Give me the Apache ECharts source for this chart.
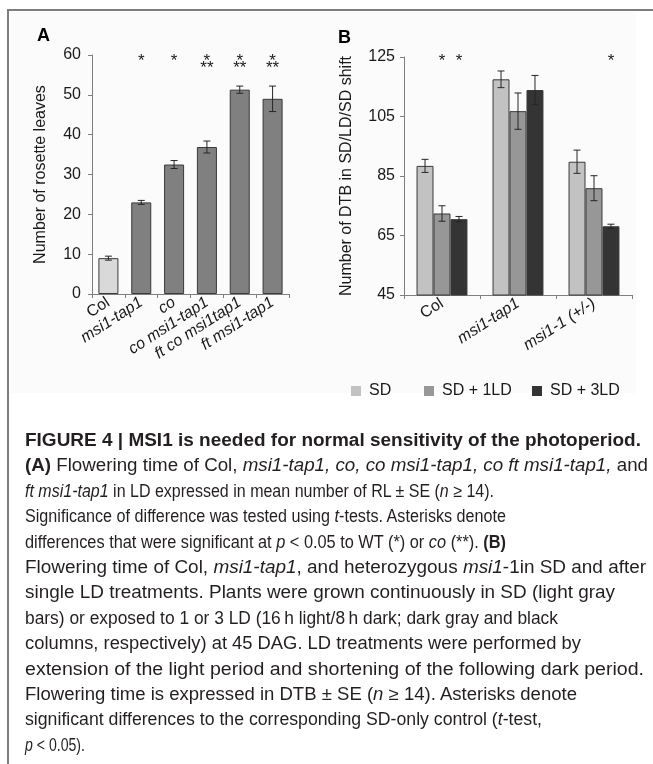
<!DOCTYPE html>
<html><head><meta charset="utf-8">
<script src="https://cdn.jsdelivr.net/npm/echarts@6/dist/echarts.min.js"></script>
<style>
html,body{margin:0;padding:0;background:#fff;}
#chart{position:absolute;left:0;top:0;width:653px;height:764px;}
#caption{position:absolute;left:25px;top:428px;font-family:"Liberation Sans",Arial,sans-serif;font-size:17.5px;line-height:25.4px;color:#231f20;white-space:nowrap;}
#caption div{height:25.4px;}
#caption div span{display:inline-block;transform-origin:0 50%;}
</style></head><body>
<div id="chart"></div>
<div id="caption">
<div><span><b>FIGURE 4 | MSI1 is needed for normal sensitivity of the photoperiod.</b></span></div>
<div><span><b>(A)</b> Flowering time of Col, <i>msi1-tap1, co, co msi1-tap1, co ft msi1-tap1,</i> and</span></div>
<div><span><i>ft msi1-tap1</i> in LD expressed in mean number of RL ± SE (<i>n</i> ≥ 14).</span></div>
<div><span>Significance of difference was tested using <i>t</i>-tests. Asterisks denote</span></div>
<div><span>differences that were significant at <i>p</i> &lt; 0.05 to WT (*) or <i>co</i> (**). <b>(B)</b></span></div>
<div><span>Flowering time of Col, <i>msi1-tap1</i>, and heterozygous <i>msi1</i>-1in SD and after</span></div>
<div><span>single LD treatments. Plants were grown continuously in SD (light gray</span></div>
<div><span>bars) or exposed to 1 or 3 LD (16&#8201;h light/8&#8201;h dark; dark gray and black</span></div>
<div><span>columns, respectively) at 45 DAG. LD treatments were performed by</span></div>
<div><span>extension of the light period and shortening of the following dark period.</span></div>
<div><span>Flowering time is expressed in DTB ± SE (<i>n</i> ≥ 14). Asterisks denote</span></div>
<div><span>significant differences to the corresponding SD-only control (<i>t</i>-test,</span></div>
<div><span><i>p</i> &lt; 0.05).</span></div>
</div>
<script>
// ---------- data (panel A) ----------
const catsA = ['Col', 'msi1-tap1', 'co', 'co msi1-tap1', 'ft co msi1tap1', 'ft msi1-tap1'];
const rosetteMean = [9.0, 23.0, 32.5, 36.9, 51.3, 49.0];
const rosetteSE = [0.5, 0.5, 1.0, 1.5, 0.9, 3.2];
const starsWT = ['', '*', '*', '*', '*', '*'];
const starsCo = ['', '', '', '**', '**', '**'];
const yTicksA = [0, 10, 20, 30, 40, 50, 60];

// ---------- data (panel B) ----------
const catsB = ['Col', 'msi1-tap1', 'msi1-1 (+/-)'];
const seriesNamesB = ['SD', 'SD + 1LD', 'SD + 3LD'];
const sdMean = [88.4, 117.5, 89.8];
const sdSE = [2.2, 2.8, 3.9];
const ld1Mean = [72.4, 106.8, 80.9];
const ld1SE = [2.6, 6.1, 4.2];
const ld3Mean = [70.5, 113.9, 68.1];
const ld3SE = [0.9, 4.9, 0.7];
const sdStars = ['', '', ''];
const ld1Stars = ['*', '', ''];
const ld3Stars = ['*', '', '*'];
const yTicksB = [45, 65, 85, 105, 125];

// ---------- caption: condensed look, each line fitted to the reference line length ----------
(function(){
  const lineWidths = [616, 623, 469, 481, 481, 621, 590, 533, 556, 619, 552, 517, 60];
  const spans = document.querySelectorAll('#caption div span');
  spans.forEach(function (sp, k) {
    const w = sp.getBoundingClientRect().width;
    if (w > 0 && lineWidths[k]) sp.style.transform = 'scaleX(' + (lineWidths[k] / w).toFixed(4) + ')';
  });
})();

const FONT = '"Liberation Sans", Arial, Helvetica, sans-serif';
const TXT = '#1a1a1a';
const AXIS = '#7f7f7f';
const EDGE = '#3a3a3a';

const colorsA = ['#d9d9d9', '#808080', '#808080', '#808080', '#808080', '#808080'];
const colorsB = ['#c2c2c2', '#979797', '#343434'];
const gapA = 0.39, gapB = 0.33;

function italicFmt(v) { return v === 'Col' ? v : '{i|' + v + '}'; }

function errRender(means, ses, starRows, slot, count, gap, starOffsets) {
  return function (params, api) {
    const i = params.dataIndex;
    const band = api.size([1, 0])[0];
    const bw = band * (1 - gap) / count;
    const dx = (slot - (count - 1) / 2) * bw;
    const top = api.coord([i, means[i] + ses[i]]);
    const bot = api.coord([i, means[i] - ses[i]]);
    const x = top[0] + dx;
    const cap = 3.5;
    const st = { stroke: '#262626', lineWidth: 1 };
    const children = [
      { type: 'line', shape: { x1: x, y1: top[1], x2: x, y2: bot[1] }, style: st },
      { type: 'line', shape: { x1: x - cap, y1: top[1], x2: x + cap, y2: top[1] }, style: st },
      { type: 'line', shape: { x1: x - cap, y1: bot[1], x2: x + cap, y2: bot[1] }, style: st }
    ];
    starRows.forEach(function (row, r) {
      const s = row[i];
      if (s) {
        children.push({
          type: 'text',
          style: {
            text: s, x: x, y: starOffsets.base + starOffsets.rows[r],
            align: 'center', verticalAlign: 'middle',
            font: '17px ' + FONT, fill: TXT
          }
        });
      }
    });
    return { type: 'group', children: children };
  };
}

const chart = echarts.init(document.getElementById('chart'), null, { renderer: 'canvas' });

const gridA = { left: 92, top: 55, width: 197, height: 239 };
const gridB = { left: 404, top: 57, width: 228, height: 238 };

const meanB = [sdMean, ld1Mean, ld3Mean];
const seB = [sdSE, ld1SE, ld3SE];
const starsB = [sdStars, ld1Stars, ld3Stars];

const series = [];
series.push({
  type: 'bar', xAxisIndex: 0, yAxisIndex: 0, barCategoryGap: (gapA * 100) + '%',
  data: rosetteMean.map(function (v, k) { return { value: v, itemStyle: { color: colorsA[k] } }; }),
  itemStyle: { borderColor: EDGE, borderWidth: 1 },
  emphasis: { disabled: true }, z: 2
});
series.push({
  type: 'custom', xAxisIndex: 0, yAxisIndex: 0, z: 5,
  data: rosetteMean.map(function (v, k) { return [k, v]; }),
  renderItem: errRender(rosetteMean, rosetteSE, [starsWT, starsCo], 0, 1, gapA,
    { base: gridA.top, rows: [6, 13] })
});
seriesNamesB.forEach(function (name, s) {
  series.push({
    name: name, type: 'bar', xAxisIndex: 1, yAxisIndex: 1,
    barCategoryGap: (gapB * 100) + '%', barGap: '0%',
    data: meanB[s],
    itemStyle: { color: colorsB[s], borderColor: EDGE, borderWidth: 1 },
    emphasis: { disabled: true }, z: 2
  });
});
seriesNamesB.forEach(function (name, s) {
  series.push({
    type: 'custom', xAxisIndex: 1, yAxisIndex: 1, z: 5,
    data: meanB[s].map(function (v, k) { return [k, v]; }),
    renderItem: errRender(meanB[s], seB[s], [starsB[s]], s, 3, gapB,
      { base: gridB.top, rows: [4] })
  });
});

function xAxisCfg(data, grid) {
  return {
    type: 'category', gridIndex: grid, data: data,
    axisLine: { lineStyle: { color: AXIS, width: 1 } },
    axisTick: { show: true, length: 4, lineStyle: { color: AXIS } },
    axisLabel: {
      interval: 0, hideOverlap: false,
      rotate: 33, margin: 7, fontSize: 16, fontFamily: FONT, color: TXT,
      formatter: italicFmt,
      rich: { i: { fontStyle: 'italic', fontSize: 16, fontFamily: FONT, color: TXT } }
    },
    splitLine: { show: false }
  };
}
function yAxisCfg(ticks, grid, name, gap, margin) {
  return {
    type: 'value', gridIndex: grid,
    min: ticks[0], max: ticks[ticks.length - 1], interval: ticks[1] - ticks[0],
    axisLine: { show: true, lineStyle: { color: AXIS, width: 1 } },
    axisTick: { show: true, length: 4, lineStyle: { color: AXIS } },
    axisLabel: { fontSize: 16, fontFamily: FONT, color: TXT, margin: margin },
    splitLine: { show: false },
    name: name, nameLocation: 'middle', nameGap: gap,
    nameTextStyle: { fontSize: 16, fontFamily: FONT, color: TXT }
  };
}

const legendBase = {
  top: 378, itemWidth: 10, itemHeight: 10, icon: 'rect',
  itemStyle: { borderWidth: 0 }, selectedMode: false,
  textStyle: { fontSize: 16, fontFamily: FONT, color: TXT, padding: [0, 0, 0, 3] }
};

chart.setOption({
  animation: false,
  backgroundColor: '#ffffff',
  grid: [gridA, gridB],
  xAxis: [xAxisCfg(catsA, 0), xAxisCfg(catsB, 1)],
  yAxis: [
    yAxisCfg(yTicksA, 0, 'Number of rosette leaves', 43, 11),
    yAxisCfg(yTicksB, 1, 'Number of DTB in SD/LD/SD shift', 49, 9)
  ],
  legend: [
    Object.assign({}, legendBase, { left: 346, data: [seriesNamesB[0]] }),
    Object.assign({}, legendBase, { left: 419, data: [seriesNamesB[1]] }),
    Object.assign({}, legendBase, { left: 527, data: [seriesNamesB[2]] })
  ],
  graphic: [
    { type: 'rect', z: -10, shape: { x: 10, y: 12, width: 626, height: 381 }, style: { fill: '#fbfbfb' }, silent: true },
    { type: 'line', shape: { x1: 8, y1: 10, x2: 653, y2: 10 }, style: { stroke: '#7d7d7d', lineWidth: 2 }, silent: true },
    { type: 'line', shape: { x1: 8, y1: 9, x2: 8, y2: 764 }, style: { stroke: '#7d7d7d', lineWidth: 2 }, silent: true },
    { type: 'text', left: 37, top: 27, style: { text: 'A', font: 'bold 18px ' + FONT, fill: '#000' }, silent: true },
    { type: 'text', left: 338, top: 29, style: { text: 'B', font: 'bold 18px ' + FONT, fill: '#000' }, silent: true }
  ],
  series: series
});
</script></body></html>
